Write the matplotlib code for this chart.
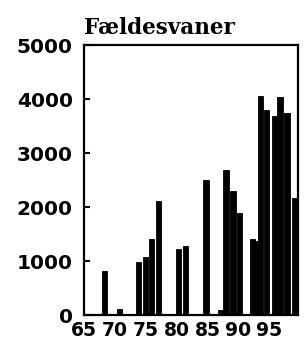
import matplotlib
matplotlib.use('Agg')
import matplotlib.pyplot as plt

# positions (in axis-label years) and heights
years = [68.3, 70.8, 73.8, 74.95, 76.0, 77.05, 80.3, 81.45, 84.75, 87.15, 88.0,
         89.15, 90.2, 92.35, 92.85, 93.55, 94.6, 95.8, 96.75, 97.9, 99.1]
values = [815, 110, 980, 1075, 1410, 2110, 1220, 1280, 2500, 90, 2685,
          2300, 1890, 1400, 1380, 4055, 3800, 3685, 4035, 3740, 2170]

xticks = [65, 70, 75, 80, 85, 90, 95]
yticks = [0, 1000, 2000, 3000, 4000, 5000]

fig = plt.figure(figsize=(3.04, 3.47), dpi=100)
ax = fig.add_axes([0.276, 0.092, 0.704, 0.778])

ax.bar(years, values, width=0.85, color='black', edgecolor='black', linewidth=0.6)

ax.set_xlim(65.3, 99.65)
ax.set_ylim(0, 5000)
ax.set_xticks(xticks)
ax.set_xticklabels([str(t) for t in xticks])
ax.set_yticks(yticks)
ax.set_yticklabels([str(t) for t in yticks])

for s in ax.spines.values():
    s.set_linewidth(1.6)

ax.tick_params(axis='y', direction='in', length=4, width=1.5, pad=8, labelsize=14.5)
ax.tick_params(axis='x', length=0, pad=4, labelsize=13.5)
for lab in ax.get_xticklabels() + ax.get_yticklabels():
    lab.set_fontweight('bold')

ax.set_title('Fældesvaner', loc='left', fontsize=15.5, fontweight='bold',
             family='DejaVu Serif', pad=8)

fig.savefig('out.png', dpi=100)
